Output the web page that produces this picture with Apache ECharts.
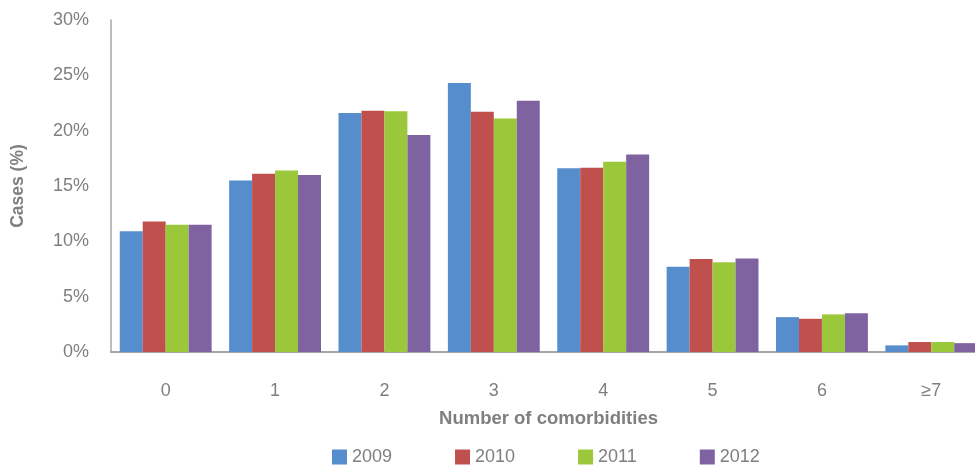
<!DOCTYPE html>
<html>
<head>
<meta charset="utf-8">
<script src="https://cdn.jsdelivr.net/npm/echarts@6/dist/echarts.min.js"></script>
<style>html,body{margin:0;padding:0;background:#fff}#c{width:975px;height:466px}</style>
</head>
<body>
<div id="c"></div>
<script>
var categories = ['0', '1', '2', '3', '4', '5', '6', '≥7'];
var years = ['2009', '2010', '2011', '2012'];
var v2009 = [10.9, 15.5, 21.6, 24.3, 16.6, 7.7, 3.15, 0.6];
var v2010 = [11.8, 16.1, 21.8, 21.7, 16.65, 8.4, 3.0, 0.9];
var v2011 = [11.5, 16.4, 21.75, 21.1, 17.2, 8.1, 3.4, 0.9];
var v2012 = [11.5, 16.0, 19.6, 22.7, 17.85, 8.45, 3.5, 0.8];
var yTicks = [0, 5, 10, 15, 20, 25, 30];
var colors = ['#558dcd', '#c0504d', '#9bc83b', '#7f62a0'];
var seriesValues = [v2009, v2010, v2011, v2012];

var chart = echarts.init(document.getElementById('c'), null, {renderer: 'canvas'});
var font = 'Liberation Sans, Arial, sans-serif';
chart.setOption({
  animation: false,
  color: colors,
  grid: {left: 111, width: 875, top: 20, height: 332, containLabel: false, outerBoundsMode: 'none'},
  legend: {
    data: years,
    left: 332,
    top: 448,
    padding: 0,
    itemWidth: 15,
    itemHeight: 15,
    itemGap: 63,
    textStyle: {fontFamily: font, fontSize: 18, color: '#7f7f7f'},
    icon: 'rect'
  },
  xAxis: {
    type: 'category',
    data: categories,
    name: 'Number of comorbidities',
    nameLocation: 'middle',
    nameGap: 57,
    nameTextStyle: {fontFamily: font, fontSize: 18.5, fontWeight: 'bold', color: '#7f7f7f'},
    axisLine: {lineStyle: {color: '#a6a6a6', width: 2}},
    axisTick: {show: false},
    axisLabel: {fontFamily: font, fontSize: 18, color: '#7f7f7f', margin: 30}
  },
  yAxis: {
    type: 'value',
    min: yTicks[0],
    max: yTicks[yTicks.length - 1],
    interval: yTicks[1] - yTicks[0],
    name: 'Cases (%)',
    nameLocation: 'middle',
    nameGap: 84,
    nameTextStyle: {fontFamily: font, fontSize: 17.5, fontWeight: 'bold', color: '#7f7f7f'},
    axisLine: {show: true, lineStyle: {color: '#a6a6a6', width: 1.5}},
    axisTick: {show: false},
    splitLine: {show: false},
    axisLabel: {fontFamily: font, fontSize: 18, color: '#7f7f7f', margin: 22, formatter: '{value}%'}
  },
  series: years.map(function (y, i) {
    return {
      name: y,
      type: 'bar',
      data: seriesValues[i],
      barGap: '0%',
      barCategoryGap: '16%',
      itemStyle: {color: colors[i]}
    };
  })
});
</script>
</body>
</html>
